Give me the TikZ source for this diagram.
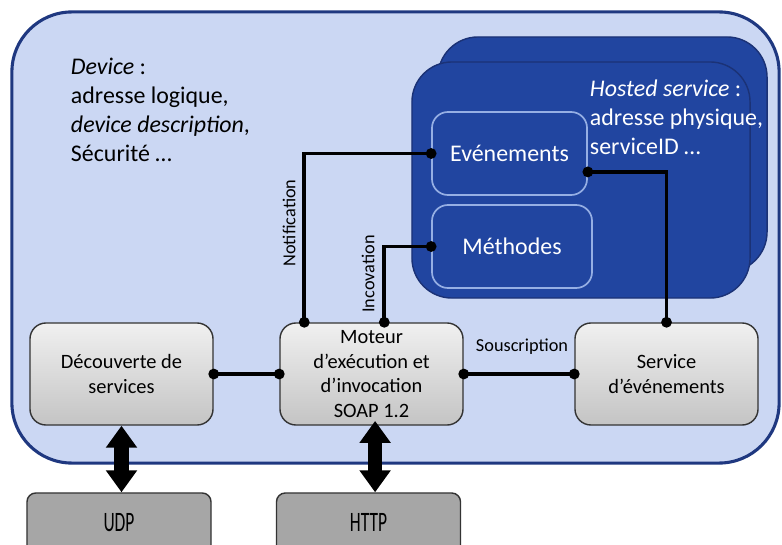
\documentclass[tikz,border=0pt]{standalone}
\usepackage{fontspec}
\setmainfont{Carlito}
\usetikzlibrary{arrows.meta}
\definecolor{devfill}{RGB}{203,215,243}
\definecolor{devline}{RGB}{31,56,128}
\definecolor{hostfill}{RGB}{33,69,160}
\definecolor{hostline}{RGB}{27,50,118}
\definecolor{methline}{RGB}{150,175,228}
\definecolor{boxtop}{RGB}{240,240,240}
\definecolor{boxbot}{RGB}{196,196,196}
\definecolor{portfill}{RGB}{166,166,166}
\begin{document}
\begin{tikzpicture}[x=0.025cm,y=-0.025cm,
  dev box/.style={draw=devline,line width=2.2pt,fill=devfill,rounded corners=1.5cm,
    minimum width=19.175cm,minimum height=11.275cm,inner sep=0},
  host box/.style={draw=hostline,line width=1pt,fill=hostfill,rounded corners=1cm,
    minimum width=8.4cm,minimum height=5.9cm,inner sep=0},
  part box/.style={draw=methline,line width=1.2pt,fill=hostfill,rounded corners=0.4cm,
    minimum width=3.9cm,minimum height=2.075cm,text=white,font=\fontsize{17}{20.6}\selectfont},
  main box/.style={draw=black!80,line width=1pt,top color=boxtop,bottom color=boxbot,
    rounded corners=0.4cm,minimum width=4.575cm,minimum height=2.55cm,align=center,
    font=\fontsize{14.5}{17.7}\selectfont},
  port box/.style={draw=black!80,line width=1pt,fill=portfill,rounded corners=0.22cm,
    minimum width=4.6cm,minimum height=1.75cm,font=\fontsize{20}{24}\selectfont},
  small text/.style={font=\fontsize{13}{15}\selectfont},
  conn/.style={line width=2.6pt,{Circle[length=7.5pt]}-{Circle[length=7.5pt]},
    shorten <=-3.75pt,shorten >=-3.75pt},
  dbl/.style={line width=0.36cm,{Triangle[length=0.55cm,width=0.75cm]}-{Triangle[length=0.55cm,width=0.75cm]}}]
\useasboundingbox (0,0) rectangle (782,545);

\node[dev box] (dev) at (395.5,237.5) {};
\node[anchor=north west,align=left,font=\fontsize{17}{20.6}\selectfont] (devtxt) at (66,53)
  {\textit{Device} :\\adresse logique,\\\textit{device description},\\Sécurité …};

\node[host box,minimum width=8.225cm,minimum height=5.875cm] (host2) at (602.5,154.5) {};
\node[host box,minimum width=8.45cm] (host1) at (581,180) {};
\node[anchor=north west,align=left,text=white,font=\fontsize{17}{20.6}\selectfont] (hosttxt) at (585,75)
  {\textit{Hosted service} :\\adresse physique,\\serviceID …};

\node[part box,minimum width=3.875cm] (evt) at (509.5,153.5) {Evénements};
\node[part box,minimum width=4cm] (meth) at (512,246.5) {Méthodes};

\node[main box] (disc) at (121.5,374) {Découverte de\\services};
\node[main box] (mot) at (371.5,374) {Moteur\\d’exécution et\\d’invocation\\SOAP 1.2};
\node[main box] (svc) at (666.5,374) {Service\\d’événements};

\node[port box] (udp) at (119,528) {\raisebox{0.3cm}{\scalebox{0.62}[1]{UDP}}};
\node[port box] (http) at (368.5,528) {\raisebox{0.3cm}{\scalebox{0.62}[1]{HTTP}}};

\coordinate (notif) at ([xshift=0.625cm]mot.north west);
\coordinate (incov) at ([xshift=2.625cm]mot.north west);
\coordinate (evtout) at ([yshift=-0.46cm]evt.east);

\draw[conn] (disc) -- (mot);
\draw[conn] (mot) -- (svc);
\draw[conn] (notif) |- (evt.west);
\draw[conn] (incov) |- (meth.west);
\draw[conn] (evtout) -| (svc.north);

\node[small text,rotate=90] (notiflbl) at (289,223) {Notification};
\node[small text,rotate=90] (incovlbl) at (368,274) {Incovation};
\node[small text] (souslbl) at (522,347) {Souscription};

\draw[dbl] (disc.south) -- (disc.south |- udp.north);
\draw[dbl] ([xshift=0.09cm,yshift=0.12cm]mot.south) -- ([xshift=0.09cm]mot.south |- http.north);
\end{tikzpicture}
\end{document}
